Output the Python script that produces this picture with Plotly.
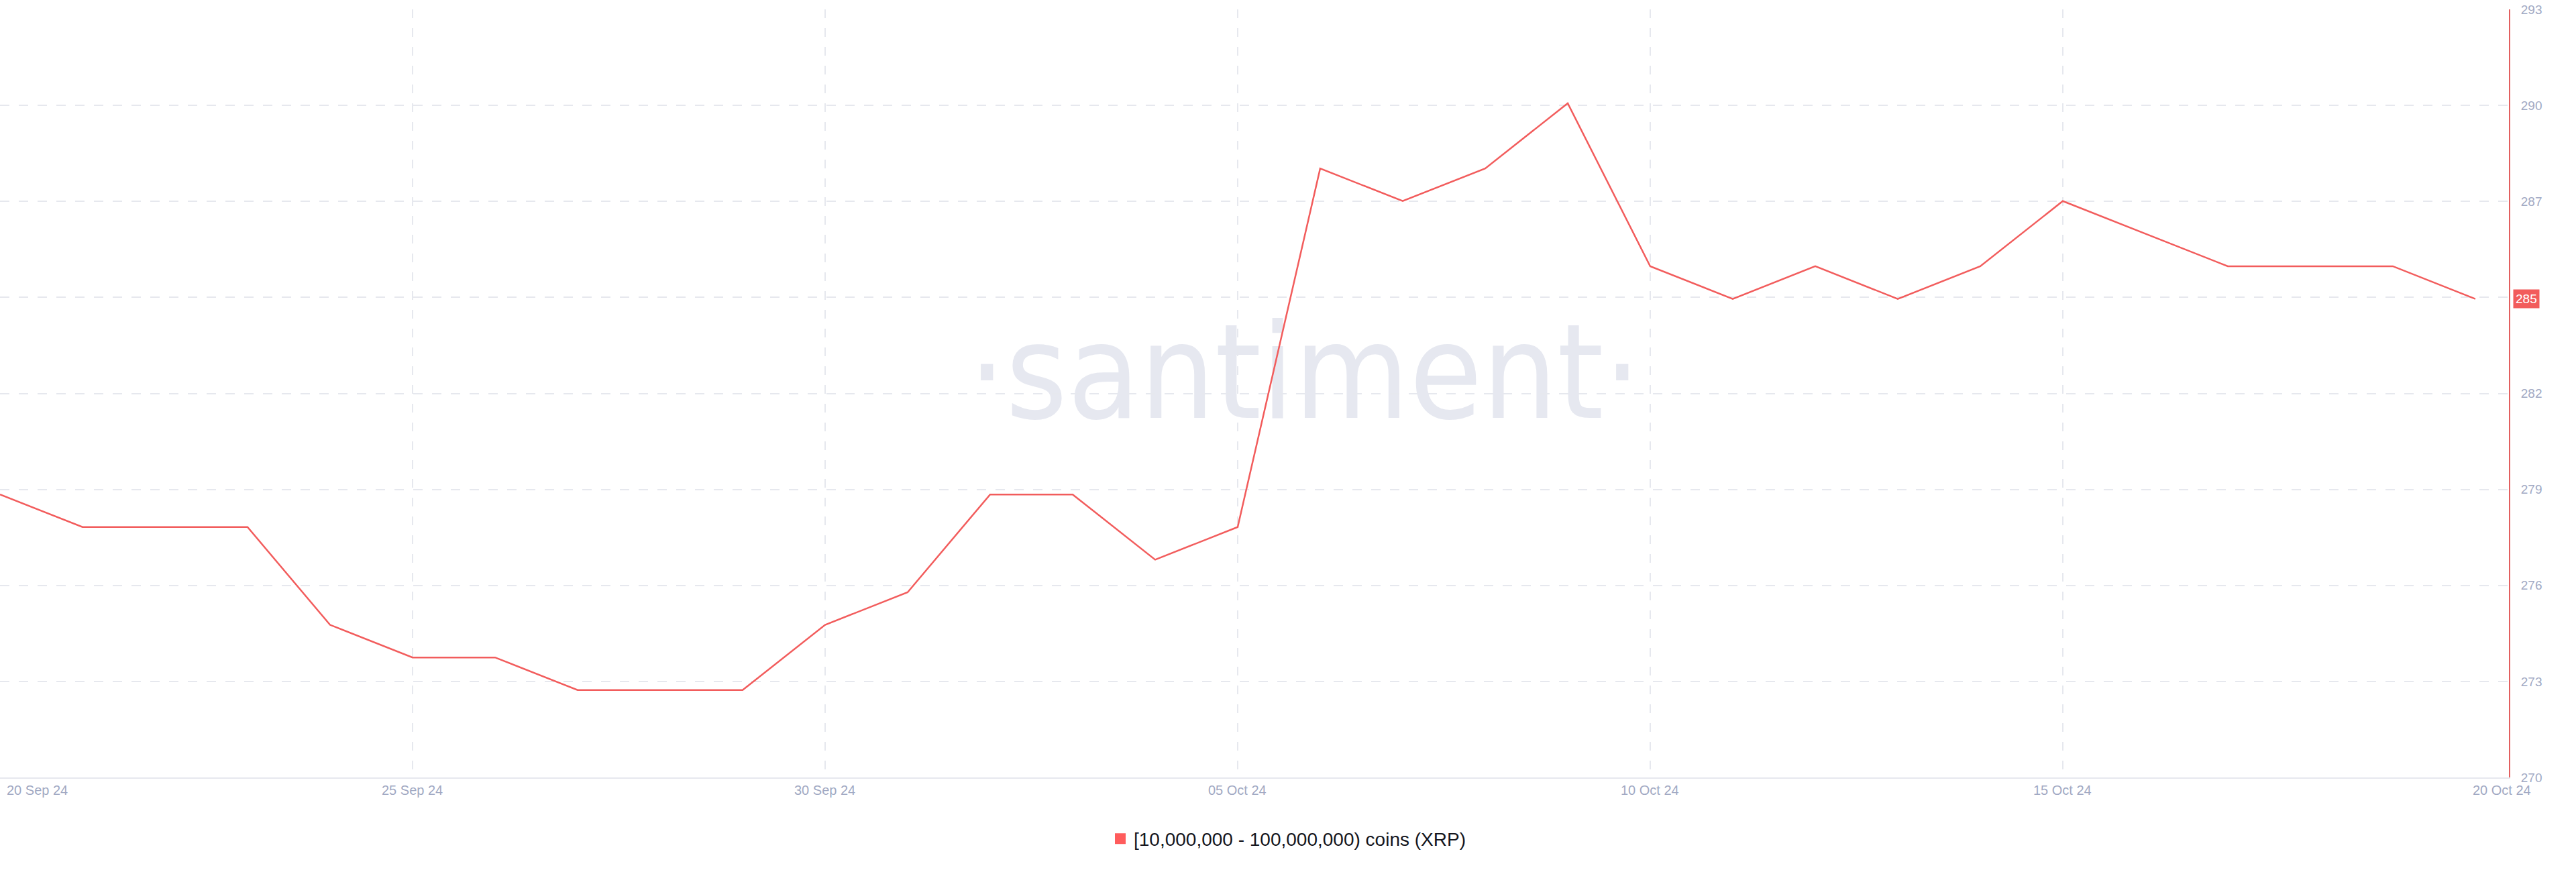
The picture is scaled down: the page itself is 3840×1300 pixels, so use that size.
import pandas as pd
import numpy as np
import plotly.graph_objects as go

# ---- data ----
DATES = pd.date_range("2024-09-20", "2024-10-20", freq="D")
HOLDERS = [279, 278, 278, 278, 275, 274, 274, 273, 273, 273, 275,
           276, 279, 279, 277, 278, 289, 288, 289, 291, 286, 285,
           286, 285, 286, 288, 287, 286, 286, 286, 285]
SERIES_NAME = "[10,000,000 - 100,000,000) coins (XRP)"

X_TICK_DATES = ["2024-09-20", "2024-09-25", "2024-09-30", "2024-10-05",
                "2024-10-10", "2024-10-15", "2024-10-20"]
X_TICK_LABELS = ["20 Sep 24", "25 Sep 24", "30 Sep 24", "05 Oct 24",
                 "10 Oct 24", "15 Oct 24", "20 Oct 24"]
Y_RANGE = [270.32, 293.88]
Y_TICK_LABELS = ["270", "273", "276", "279", "282", "285", "287", "290", "293"]

RED = "#f25c5c"
TICK_COLOR = "#a1a9c3"
GRID_COLOR = "#e6e8ee"
FONT = "Liberation Sans, Arial, sans-serif"

y_tickvals = list(np.linspace(Y_RANGE[0], Y_RANGE[1], len(Y_TICK_LABELS)))
# the last-value badge covers the tick label at the same level
last_label = str(HOLDERS[-1])
y_ticktext = ["" if t == last_label else t for t in Y_TICK_LABELS]

fig = go.Figure()
fig.add_trace(go.Scatter(
    x=DATES, y=HOLDERS, mode="lines",
    line=dict(color=RED, width=2.5),
    showlegend=False, name=SERIES_NAME,
))
# legend entry (square swatch)
fig.add_trace(go.Scatter(
    x=[None], y=[None], mode="markers",
    marker=dict(symbol="square", size=18, color="#ff5c5c"),
    name=SERIES_NAME, showlegend=True,
))

annotations = []
for i, (d, lab) in enumerate(zip(X_TICK_DATES, X_TICK_LABELS)):
    if i == 0:
        xa, xs = "left", 8
    elif i == len(X_TICK_DATES) - 1:
        xa, xs = "center", 40
    else:
        xa, xs = "center", 0
    annotations.append(dict(
        x=d, y=0, xref="x", yref="paper", text=lab, showarrow=False,
        xanchor=xa, yanchor="top", xshift=xs, yshift=-6,
        font=dict(family=FONT, size=20, color=TICK_COLOR),
    ))
annotations.append(dict(
    x=1, y=HOLDERS[-1], xref="paper", yref="y", text=last_label,
    showarrow=False, xanchor="left", yanchor="middle", xshift=6,
    bgcolor=RED, borderpad=3,
    font=dict(family=FONT, size=19, color="white"),
))

fig.update_layout(
    width=3840, height=1300, autosize=False,
    margin=dict(l=0, r=100, t=14, b=141),
    paper_bgcolor="white", plot_bgcolor="white",
    annotations=annotations,
    shapes=[dict(
        type="rect", xref="paper", yref="paper",
        x0=0.30, x1=0.74, y0=0.41, y1=0.67,
        line=dict(width=0), fillcolor="rgba(0,0,0,0)", layer="between",
        label=dict(text="·santiment·", textposition="middle center",
                   font=dict(family="Liberation Sans Narrow, DejaVu Sans Condensed, sans-serif",
                             size=196, color="#e6e8f0")),
    )],
    showlegend=True,
    legend=dict(
        orientation="h", x=1920 / 3740, xanchor="center", y=-0.080, yanchor="middle",
        font=dict(family=FONT, size=28, color="#15161d"),
        bgcolor="rgba(0,0,0,0)",
    ),
    xaxis=dict(
        type="date",
        range=["2024-09-20", "2024-10-20 09:46"],
        tickvals=X_TICK_DATES[:-1], showticklabels=False, ticks="",
        showgrid=True, gridcolor=GRID_COLOR, gridwidth=1.5, griddash="13px,15px",
        showline=True, linecolor="#e6e8ee", linewidth=2,
        zeroline=False, automargin=False, fixedrange=True,
    ),
    yaxis=dict(
        side="right", range=Y_RANGE,
        tickvals=y_tickvals, ticktext=y_ticktext, ticks="",
        ticklabelstandoff=12,
        tickfont=dict(family=FONT, size=19, color=TICK_COLOR),
        showgrid=True, gridcolor=GRID_COLOR, gridwidth=1.5, griddash="14px,14px",
        showline=True, linecolor="#e35f5f", linewidth=2,
        zeroline=False, automargin=False, fixedrange=True,
    ),
)

fig.write_html("out.html", config={"displayModeBar": False},
               post_script="document.body.style.margin='0';")
